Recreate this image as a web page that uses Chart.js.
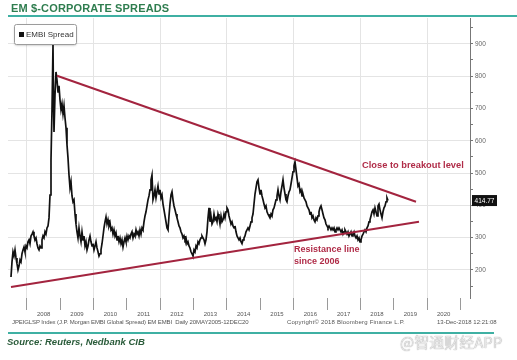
<!DOCTYPE html>
<html>
<head>
<meta charset="utf-8">
<script src="https://cdn.jsdelivr.net/npm/chart.js@4.4.0/dist/chart.umd.min.js"></script>
<style>
  html, body { margin: 0; padding: 0; background: #fff; }
  #wrap { position: relative; width: 517px; height: 360px; overflow: hidden; font-family: "Liberation Sans", Arial, sans-serif; }
  #c { position: absolute; left: 0; top: 0; }
  .ov { position: absolute; white-space: nowrap; }
  #title { left: 11px; top: 2px; font: bold 11px "Liberation Sans", Arial, sans-serif; color: #2f7d4f; letter-spacing: 0.15px; }
  #rule1 { left: 8px; top: 15px; width: 509px; height: 2px; background: #3fb0a3; }
  #rule2 { left: 8px; top: 332px; width: 486px; height: 2px; background: #3fb0a3; }
  .fn { top: 319px; font-size: 6px; color: #555; }
  #source { left: 7px; top: 336px; font: italic bold 9.5px "Liberation Sans", Arial, sans-serif; color: #2b5c3b; }
  #wm { left: 400px; top: 331px; font-size: 15px; font-family: "Noto Sans CJK SC", sans-serif; color: #e6e6e6; text-shadow: 0 0 1px #888; }
</style>
</head>
<body>
<div id="wrap">
  <canvas id="c" width="517" height="360"></canvas>
  <div class="ov" id="title">EM $-CORPORATE SPREADS</div>
  <div class="ov" id="rule1"></div>
  <div class="ov fn" style="left:12px; letter-spacing:-0.1px">JPEIGLSP Index (J.P. Morgan EMBI Global Spread) EM EMBI &nbsp;Daily 20MAY2005-12DEC20</div>
  <div class="ov fn" style="left:287px; letter-spacing:0.2px">Copyright© 2018 Bloomberg Finance L.P.</div>
  <div class="ov fn" style="left:437px">13-Dec-2018 12:21:08</div>
  <div class="ov" id="rule2"></div>
  <div class="ov" id="source">Source: Reuters, Nedbank CIB</div>
  <div class="ov" id="wm">@智通财经APP</div>
</div>
<script>
// ---------- data ----------
const seriesName = 'EMBI Spread';
const dates = [
  2007.52,2007.55,2007.58,2007.61,2007.64,2007.67,2007.70,2007.73,2007.76,2007.79,
  2007.82,2007.85,2007.88,2007.91,2007.94,2007.97,2008.00,2008.03,2008.06,2008.09,
  2008.12,2008.15,2008.18,2008.21,2008.24,2008.27,2008.30,2008.33,2008.36,2008.39,
  2008.42,2008.45,2008.48,2008.51,2008.54,2008.57,2008.60,2008.63,2008.66,2008.69,
  2008.72,2008.75,2008.78,2008.795,2008.81,2008.84,2008.87,2008.90,2008.93,2008.96,
  2008.99,2009.02,2009.05,2009.08,2009.11,2009.14,2009.17,2009.20,2009.23,2009.26,
  2009.29,2009.32,2009.35,2009.38,2009.41,2009.44,2009.47,2009.50,2009.53,2009.56,
  2009.59,2009.62,2009.65,2009.68,2009.71,2009.74,2009.77,2009.80,2009.83,2009.86,
  2009.89,2009.92,2009.95,2009.98,2010.01,2010.04,2010.07,2010.10,2010.13,2010.16,
  2010.19,2010.22,2010.25,2010.28,2010.31,2010.34,2010.37,2010.40,2010.43,2010.46,
  2010.49,2010.52,2010.55,2010.58,2010.61,2010.64,2010.67,2010.70,2010.73,2010.76,
  2010.79,2010.82,2010.85,2010.88,2010.91,2010.94,2010.97,2011.00,2011.03,2011.06,
  2011.09,2011.12,2011.15,2011.18,2011.21,2011.24,2011.27,2011.30,2011.33,2011.36,
  2011.39,2011.42,2011.45,2011.48,2011.51,2011.54,2011.57,2011.60,2011.63,2011.66,
  2011.69,2011.72,2011.75,2011.78,2011.81,2011.84,2011.87,2011.90,2011.93,2011.96,
  2011.99,2012.02,2012.05,2012.08,2012.11,2012.14,2012.17,2012.20,2012.23,2012.26,
  2012.29,2012.32,2012.35,2012.38,2012.41,2012.44,2012.47,2012.50,2012.53,2012.56,
  2012.59,2012.62,2012.65,2012.68,2012.71,2012.74,2012.77,2012.80,2012.83,2012.86,
  2012.89,2012.92,2012.95,2012.98,2013.01,2013.04,2013.07,2013.10,2013.13,2013.16,
  2013.19,2013.22,2013.25,2013.28,2013.31,2013.34,2013.37,2013.40,2013.43,2013.46,
  2013.49,2013.52,2013.55,2013.58,2013.61,2013.64,2013.67,2013.70,2013.73,2013.76,
  2013.79,2013.82,2013.85,2013.88,2013.91,2013.94,2013.97,2014.00,2014.03,2014.06,
  2014.09,2014.12,2014.15,2014.18,2014.21,2014.24,2014.27,2014.30,2014.33,2014.36,
  2014.39,2014.42,2014.45,2014.48,2014.51,2014.54,2014.57,2014.60,2014.63,2014.66,
  2014.69,2014.72,2014.75,2014.78,2014.81,2014.84,2014.87,2014.90,2014.93,2014.96,
  2014.99,2015.02,2015.05,2015.08,2015.11,2015.14,2015.17,2015.20,2015.23,2015.26,
  2015.29,2015.32,2015.35,2015.38,2015.41,2015.44,2015.47,2015.50,2015.53,2015.56,
  2015.59,2015.62,2015.65,2015.68,2015.71,2015.74,2015.77,2015.80,2015.83,2015.86,
  2015.89,2015.92,2015.95,2015.98,2016.01,2016.04,2016.07,2016.10,2016.13,2016.16,
  2016.19,2016.22,2016.25,2016.28,2016.31,2016.34,2016.37,2016.40,2016.43,2016.46,
  2016.49,2016.52,2016.55,2016.58,2016.61,2016.64,2016.67,2016.70,2016.73,2016.76,
  2016.79,2016.82,2016.85,2016.88,2016.91,2016.94,2016.97,2017.00,2017.03,2017.06,
  2017.09,2017.12,2017.15,2017.18,2017.21,2017.24,2017.27,2017.30,2017.33,2017.36,
  2017.39,2017.42,2017.45,2017.48,2017.51,2017.54,2017.57,2017.60,2017.63,2017.66,
  2017.69,2017.72,2017.75,2017.78,2017.81,2017.84,2017.87,2017.90,2017.93,2017.96,
  2017.99,2018.02,2018.05,2018.08,2018.11,2018.14,2018.17,2018.20,2018.23,2018.26,
  2018.29,2018.32,2018.35,2018.38,2018.41,2018.44,2018.47,2018.50,2018.53,2018.56,
  2018.59,2018.62,2018.65,2018.68,2018.71,2018.74,2018.77,2018.80,2018.83
];
const spreads = [
  178,225,256,243,262,237,219,200,212,231,
  225,250,262,271,256,274,268,287,293,281,
  305,311,318,305,293,299,281,268,262,274,
  268,293,305,299,318,311,330,336,361,432,
  541,696,897,726,627,742,813,788,751,770,
  726,696,714,683,708,671,640,587,547,494,
  454,473,429,411,417,373,342,318,299,330,
  305,287,318,293,305,274,287,262,274,293,
  305,287,274,281,262,274,287,268,256,243,
  250,262,281,305,330,349,364,342,355,336,
  346,324,330,311,324,305,315,293,305,287,
  299,281,293,271,287,299,287,305,293,305,
  299,311,318,299,311,305,324,311,318,305,
  324,311,330,324,349,367,380,398,417,429,
  448,479,494,417,429,448,423,442,460,435,
  448,423,432,404,386,367,349,330,324,367,
  404,432,442,417,398,386,373,361,349,336,
  330,318,311,299,305,293,299,281,287,274,
  268,256,250,243,262,256,274,268,287,281,
  293,299,305,299,293,281,293,318,361,392,
  349,367,342,349,373,355,361,349,373,361,
  342,367,349,355,373,361,380,392,386,367,
  355,342,349,336,330,336,318,305,299,293,
  299,287,281,293,299,305,318,324,330,324,
  336,349,361,373,404,435,454,473,479,454,
  435,448,429,417,404,392,398,380,373,367,
  361,373,367,386,392,404,417,429,448,429,
  417,442,460,479,454,435,417,411,429,442,
  448,466,485,504,522,534,510,485,460,466,
  442,448,429,435,423,417,411,398,392,386,
  373,380,361,367,355,349,361,355,367,380,
  392,398,386,373,361,355,342,336,330,336,
  330,324,330,324,330,318,324,330,324,330,
  324,318,324,311,318,324,318,311,318,305,
  311,318,305,311,318,305,299,305,293,299,
  287,293,305,311,318,324,318,330,336,349,
  355,367,380,386,373,392,380,367,398,404,
  386,373,361,380,392,398,411,423,414.77
];
// trend lines (start / end)
const upperDates = [2008.90, 2019.67];
const upperValues = [801, 411];
const lowerDates = [2007.52, 2019.76];
const lowerValues = [147, 349];
// axis ticks / labels
const xTickYears = [2008,2009,2010,2011,2012,2013,2014,2015,2016,2017,2018,2019,2020,2021];
const xLabels = ['2008','2009','2010','2011','2012','2013','2014','2015','2016','2017','2018','2019','2020',''];
const yTickValues = [150,200,250,300,350,400,450,500,550,600,650,700,750,800,850,900,950];
const yLabelValues = [200,300,400,500,600,700,800,900];
const noteBreakout = 'Close to breakout level';
const noteResistance = ['Resistance line', 'since 2006'];

// ---------- chart ----------
const zip = (xs, ys) => xs.map((x, i) => ({ x: x, y: ys[i] }));
const RED = '#a3243f';

const overlay = {
  id: 'overlay',
  afterDraw(chart) {
    const ctx = chart.ctx, xs = chart.scales.x, ys = chart.scales.y;
    ctx.save();
    // annotations
    ctx.fillStyle = '#b02c48';
    ctx.font = 'bold 9.3px "Liberation Sans", Arial, sans-serif';
    ctx.textBaseline = 'middle';
    ctx.textAlign = 'left';
    ctx.fillText(noteBreakout, xs.getPixelForValue(2018.05), ys.getPixelForValue(525));
    ctx.font = 'bold 9px "Liberation Sans", Arial, sans-serif';
    ctx.fillText(noteResistance[0], xs.getPixelForValue(2016.01), ys.getPixelForValue(262));
    ctx.fillText(noteResistance[1], xs.getPixelForValue(2016.01), ys.getPixelForValue(225));
    // legend box
    const lx = 14, ly = 24, lw = 62, lh = 20;
    ctx.shadowColor = 'rgba(0,0,0,0.25)';
    ctx.shadowBlur = 2;
    ctx.shadowOffsetY = 1;
    ctx.fillStyle = '#fff';
    ctx.beginPath();
    ctx.roundRect(lx + 0.5, ly + 0.5, lw, lh, 2);
    ctx.fill();
    ctx.shadowColor = 'transparent';
    ctx.strokeStyle = '#9c9c9c';
    ctx.lineWidth = 1;
    ctx.stroke();
    ctx.fillStyle = '#111';
    ctx.fillRect(lx + 5, ly + 8, 5, 5);
    ctx.fillStyle = '#333';
    ctx.font = '8px "Liberation Sans", Arial, sans-serif';
    ctx.fillText(chart.data.datasets[2].label, lx + 12, ly + 11);
    // last value box
    const last = spreads[spreads.length - 1];
    const py = ys.getPixelForValue(last);
    ctx.fillStyle = '#111';
    ctx.fillRect(472, py - 5.5, 25, 11);
    ctx.fillStyle = '#fff';
    ctx.font = '6.5px "Liberation Sans", Arial, sans-serif';
    ctx.textAlign = 'center';
    ctx.fillText(last.toFixed(2), 484.5, py + 0.5);
    ctx.restore();
  }
};

new Chart(document.getElementById('c'), {
  type: 'line',
  data: {
    datasets: [
      { label: 'Upper trend', data: zip(upperDates, upperValues), borderColor: RED, borderWidth: 2, pointRadius: 0, order: 1 },
      { label: 'Resistance line', data: zip(lowerDates, lowerValues), borderColor: RED, borderWidth: 2, pointRadius: 0, order: 1 },
      { label: seriesName, data: zip(dates, spreads), borderColor: '#111', borderWidth: 1.7, pointRadius: 0, tension: 0, order: 2 }
    ]
  },
  options: {
    responsive: false,
    animation: false,
    devicePixelRatio: 1,
    layout: { padding: { left: 8, top: 18, right: 0, bottom: 0 } },
    plugins: { legend: { display: false }, tooltip: { enabled: false }, title: { display: false } },
    scales: {
      x: {
        type: 'linear',
        min: 2007.43,
        max: 2021.29,
        afterBuildTicks: s => { s.ticks = xTickYears.map(v => ({ value: v })); },
        afterFit: s => { s.height = 62; },
        border: { display: false },
        grid: {
          color: c => (c.tick && c.tick.value % 2 === 0) ? '#e4e4e4' : 'rgba(0,0,0,0)',
          tickColor: '#9a9a9a',
          tickLength: 12,
          lineWidth: 1
        },
        ticks: {
          autoSkip: false,
          maxRotation: 0,
          padding: 1,
          labelOffset: 16.7,
          color: '#555',
          font: { size: 6, family: '"Liberation Sans", Arial, sans-serif' },
          callback: (v, i) => xLabels[xTickYears.indexOf(v)] || ''
        }
      },
      y: {
        type: 'linear',
        position: 'right',
        min: 113,
        max: 980,
        afterBuildTicks: s => { s.ticks = yTickValues.map(v => ({ value: v })); },
        afterFit: s => { s.width = 47; },
        border: { display: true, color: '#777', width: 1 },
        grid: {
          color: c => (c.tick && yLabelValues.includes(c.tick.value)) ? '#e4e4e4' : 'rgba(0,0,0,0)',
          tickColor: '#777',
          tickLength: 3,
          lineWidth: 1
        },
        ticks: {
          autoSkip: false,
          padding: 2,
          color: '#666',
          font: { size: 6.5, family: '"Liberation Sans", Arial, sans-serif' },
          callback: v => yLabelValues.includes(v) ? String(v) : ''
        }
      }
    }
  },
  plugins: [overlay]
});
</script>
</body>
</html>
